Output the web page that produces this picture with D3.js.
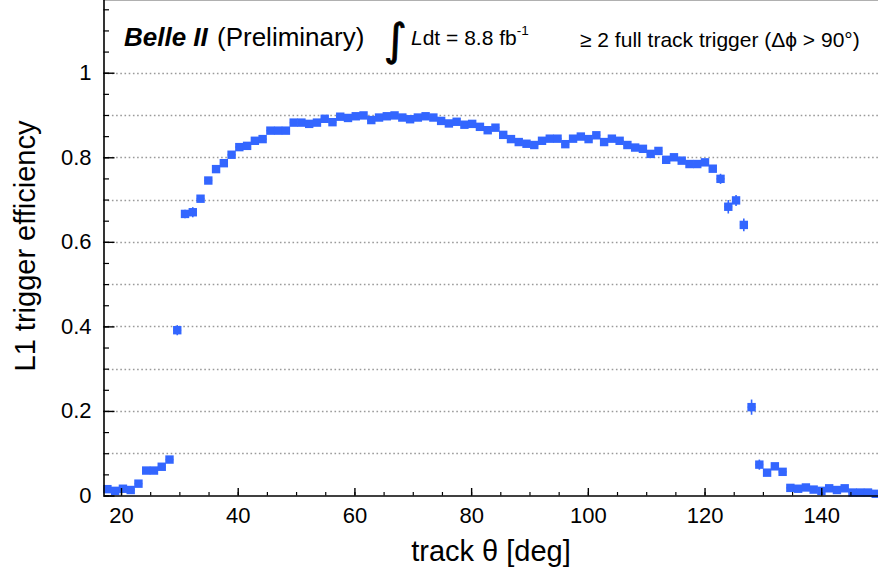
<!DOCTYPE html>
<html>
<head>
<meta charset="utf-8">
<script src="https://cdn.jsdelivr.net/npm/d3@7"></script>
<style>
  body { margin: 0; background: #fff; }
  svg { display: block; font-family: "Liberation Sans", Arial, Helvetica, sans-serif; }
</style>
</head>
<body>
<svg id="chart" width="878" height="576"></svg>
<script>
// Track polar angle bin centres [deg] (100 bins, 17–150 deg)
const thetaCenters = [
  17.67, 19.00, 20.33, 21.66, 22.99, 24.32, 25.65, 26.98, 28.31, 29.64,
  30.97, 32.30, 33.63, 34.96, 36.29, 37.62, 38.95, 40.28, 41.61, 42.94,
  44.27, 45.60, 46.93, 48.26, 49.59, 50.92, 52.25, 53.58, 54.91, 56.24,
  57.57, 58.90, 60.23, 61.56, 62.89, 64.22, 65.55, 66.88, 68.21, 69.54,
  70.87, 72.20, 73.53, 74.86, 76.19, 77.52, 78.85, 80.18, 81.51, 82.84,
  84.17, 85.50, 86.83, 88.16, 89.49, 90.82, 92.15, 93.48, 94.81, 96.14,
  97.47, 98.80, 100.13, 101.46, 102.79, 104.12, 105.45, 106.78, 108.11, 109.44,
  110.77, 112.10, 113.43, 114.76, 116.09, 117.42, 118.75, 120.08, 121.41, 122.74,
  124.07, 125.40, 126.73, 128.06, 129.39, 130.72, 132.05, 133.38, 134.71, 136.04,
  137.37, 138.70, 140.03, 141.36, 142.69, 144.02, 145.35, 146.68, 148.01, 149.34
];
const binWidth = 1.33;

// L1 trigger efficiency per bin
const efficiency = [
  0.015, 0.011, 0.016, 0.013, 0.028, 0.059, 0.059, 0.068, 0.085, 0.391,
  0.666, 0.670, 0.702, 0.745, 0.772, 0.786, 0.806, 0.824, 0.827, 0.839,
  0.843, 0.863, 0.863, 0.863, 0.882, 0.882, 0.879, 0.882, 0.891, 0.883,
  0.896, 0.893, 0.897, 0.899, 0.888, 0.894, 0.897, 0.899, 0.894, 0.890,
  0.894, 0.897, 0.894, 0.886, 0.880, 0.884, 0.877, 0.879, 0.872, 0.864,
  0.870, 0.853, 0.843, 0.836, 0.832, 0.829, 0.839, 0.844, 0.844, 0.831,
  0.844, 0.849, 0.843, 0.852, 0.836, 0.844, 0.839, 0.829, 0.823, 0.820,
  0.808, 0.815, 0.794, 0.800, 0.792, 0.784, 0.784, 0.788, 0.773, 0.749,
  0.683, 0.698, 0.640, 0.209, 0.073, 0.054, 0.069, 0.056, 0.018, 0.016,
  0.019, 0.014, 0.011, 0.017, 0.013, 0.017, 0.007, 0.007, 0.007, 0.004
];

// Statistical uncertainty per bin
const efficiencyErr = [
  0.004, 0.004, 0.004, 0.004, 0.005, 0.006, 0.006, 0.006, 0.007, 0.012,
  0.010, 0.012, 0.008, 0.008, 0.006, 0.006, 0.005, 0.005, 0.005, 0.005,
  0.004, 0.004, 0.004, 0.004, 0.004, 0.004, 0.004, 0.004, 0.004, 0.004,
  0.004, 0.004, 0.004, 0.004, 0.004, 0.004, 0.004, 0.004, 0.004, 0.004,
  0.004, 0.004, 0.004, 0.004, 0.004, 0.004, 0.004, 0.004, 0.004, 0.004,
  0.004, 0.004, 0.004, 0.004, 0.004, 0.004, 0.004, 0.004, 0.004, 0.004,
  0.004, 0.004, 0.004, 0.004, 0.004, 0.004, 0.004, 0.004, 0.004, 0.004,
  0.005, 0.005, 0.005, 0.005, 0.005, 0.005, 0.005, 0.006, 0.008, 0.012,
  0.016, 0.013, 0.015, 0.018, 0.012, 0.008, 0.008, 0.008, 0.004, 0.004,
  0.004, 0.004, 0.004, 0.004, 0.004, 0.004, 0.003, 0.003, 0.003, 0.003
];

const xMajorTicks = [20, 40, 60, 80, 100, 120, 140];
const xMinorTicks = [20, 25, 30, 35, 40, 45, 50, 55, 60, 65, 70, 75, 80, 85, 90, 95,
                     100, 105, 110, 115, 120, 125, 130, 135, 140, 145, 150];
const yMajorTicks = [0, 0.2, 0.4, 0.6, 0.8, 1.0];
const yTickLabels = ["0", "0.2", "0.4", "0.6", "0.8", "1"];
const yMinorTicks = [0, 0.05, 0.1, 0.15, 0.2, 0.25, 0.3, 0.35, 0.4, 0.45, 0.5, 0.55,
                     0.6, 0.65, 0.7, 0.75, 0.8, 0.85, 0.9, 0.95, 1.0, 1.05, 1.1, 1.15];
const gridValues = [0.1, 0.2, 0.3, 0.4, 0.5, 0.6, 0.7, 0.8, 0.9, 1.0];

const svg = d3.select("#chart");
const plotLeft = 103.5, plotRight = 879.6, plotBottom = 495.5, plotTop = 0;

const x = d3.scaleLinear().domain([17, 150]).range([plotLeft, plotRight]);
const y = d3.scaleLinear().domain([0, 1.172]).range([plotBottom, plotTop]);

const markColor = "#3366ff";

// Horizontal dotted grid
svg.append("g").selectAll("line").data(gridValues).join("line")
  .attr("x1", plotLeft).attr("x2", 878)
  .attr("y1", d => Math.round(y(d)) + 0.5).attr("y2", d => Math.round(y(d)) + 0.5)
  .attr("stroke", "#9a9a9a").attr("stroke-width", 1.3)
  .attr("stroke-dasharray", "1.6 2.6");

// Top frame edge
svg.append("line").attr("x1", plotLeft).attr("x2", 878).attr("y1", 0.5).attr("y2", 0.5)
  .attr("stroke", "#b0b0b0").attr("stroke-width", 1);

// Error bars
const pts = thetaCenters.map((t, i) => ({ t, v: efficiency[i], e: efficiencyErr[i] }));
svg.append("g").selectAll("line").data(pts).join("line")
  .attr("x1", d => x(d.t)).attr("x2", d => x(d.t))
  .attr("y1", d => y(d.v - d.e)).attr("y2", d => y(d.v + d.e))
  .attr("stroke", markColor).attr("stroke-width", 1.6);
svg.append("g").selectAll("line").data(pts).join("line")
  .attr("x1", d => x(d.t - binWidth / 2)).attr("x2", d => x(d.t + binWidth / 2))
  .attr("y1", d => y(d.v)).attr("y2", d => y(d.v))
  .attr("stroke", markColor).attr("stroke-width", 1.6);

// Square markers
const ms = 8.4, mh = 8.4;
svg.append("g").selectAll("rect").data(pts).join("rect")
  .attr("x", d => x(d.t) - ms / 2).attr("y", d => y(d.v) - mh / 2)
  .attr("width", ms).attr("height", mh)
  .attr("fill", markColor);

// X axis: major ticks with labels, minor ticks
const xAxisG = svg.append("g").attr("transform", `translate(0,${plotBottom})`);
xAxisG.append("g")
  .call(d3.axisBottom(x).tickValues(xMinorTicks).tickSize(-3.5).tickSizeOuter(0).tickFormat(""))
  .call(g => g.select(".domain").remove())
  .call(g => g.selectAll("line").attr("stroke", "#000").attr("stroke-width", 1.2));
xAxisG.append("g")
  .call(d3.axisBottom(x).tickValues(xMajorTicks).tickSize(-7.5).tickSizeOuter(0).tickPadding(12))
  .call(g => g.select(".domain").attr("stroke", "#000").attr("stroke-width", 1.6)
        .attr("d", `M${plotLeft},0.5H878`))
  .call(g => g.selectAll("line").attr("stroke", "#000").attr("stroke-width", 1.4))
  .call(g => g.selectAll("text").attr("fill", "#000").attr("font-size", 22)
        .attr("font-family", "Liberation Sans, Arial, sans-serif"));

// Y axis: labelled major ticks, minor ticks
const yAxisG = svg.append("g").attr("transform", `translate(${plotLeft},0)`);
yAxisG.append("g")
  .call(d3.axisLeft(y).tickValues(yMinorTicks).tickSize(-5.5).tickSizeOuter(0).tickFormat(""))
  .call(g => g.select(".domain").remove())
  .call(g => g.selectAll("line").attr("stroke", "#000").attr("stroke-width", 1.2));
yAxisG.append("g")
  .call(d3.axisLeft(y).tickValues(yMajorTicks).tickSize(-11).tickSizeOuter(0).tickPadding(12)
        .tickFormat((d, i) => yTickLabels[i]))
  .call(g => g.select(".domain").attr("stroke", "#000").attr("stroke-width", 1.6)
        .attr("d", `M0.5,0V${plotBottom}`))
  .call(g => g.selectAll("line").attr("stroke", "#000").attr("stroke-width", 1.4))
  .call(g => g.selectAll("text").attr("fill", "#000").attr("font-size", 22)
        .attr("font-family", "Liberation Sans, Arial, sans-serif"));

// Axis titles
svg.append("text")
  .attr("x", 491).attr("y", 561).attr("text-anchor", "middle")
  .attr("font-size", 29).attr("fill", "#000")
  .text("track θ [deg]");
svg.append("text")
  .attr("transform", "translate(35,246) rotate(-90)").attr("text-anchor", "middle")
  .attr("font-size", 29).attr("fill", "#000")
  .text("L1 trigger efficiency");

// Header: experiment, luminosity, trigger selection
const head = svg.append("g").attr("fill", "#000");
head.append("text").attr("x", 124).attr("y", 46)
  .attr("font-size", 26).attr("font-weight", "bold").attr("font-style", "italic")
  .text("Belle II");
head.append("text").attr("x", 217).attr("y", 46).attr("font-size", 26)
  .text("(Preliminary)");
head.append("text").attr("x", 384).attr("y", 55).attr("font-size", 44)
  .attr("font-family", "DejaVu Sans, sans-serif")
  .attr("stroke", "#000").attr("stroke-width", 0.8)
  .text("∫");
const lumi = head.append("text").attr("x", 411).attr("y", 45).attr("font-size", 21);
lumi.append("tspan").attr("font-style", "italic").text("L");
lumi.append("tspan").text("dt = 8.8 fb");
lumi.append("tspan").attr("font-size", 13.5).attr("dy", -10).text("-1");
head.append("text").attr("x", 580).attr("y", 47).attr("font-size", 21)
  .text("≥ 2 full track trigger (Δϕ > 90°)");
</script>
</body>
</html>
